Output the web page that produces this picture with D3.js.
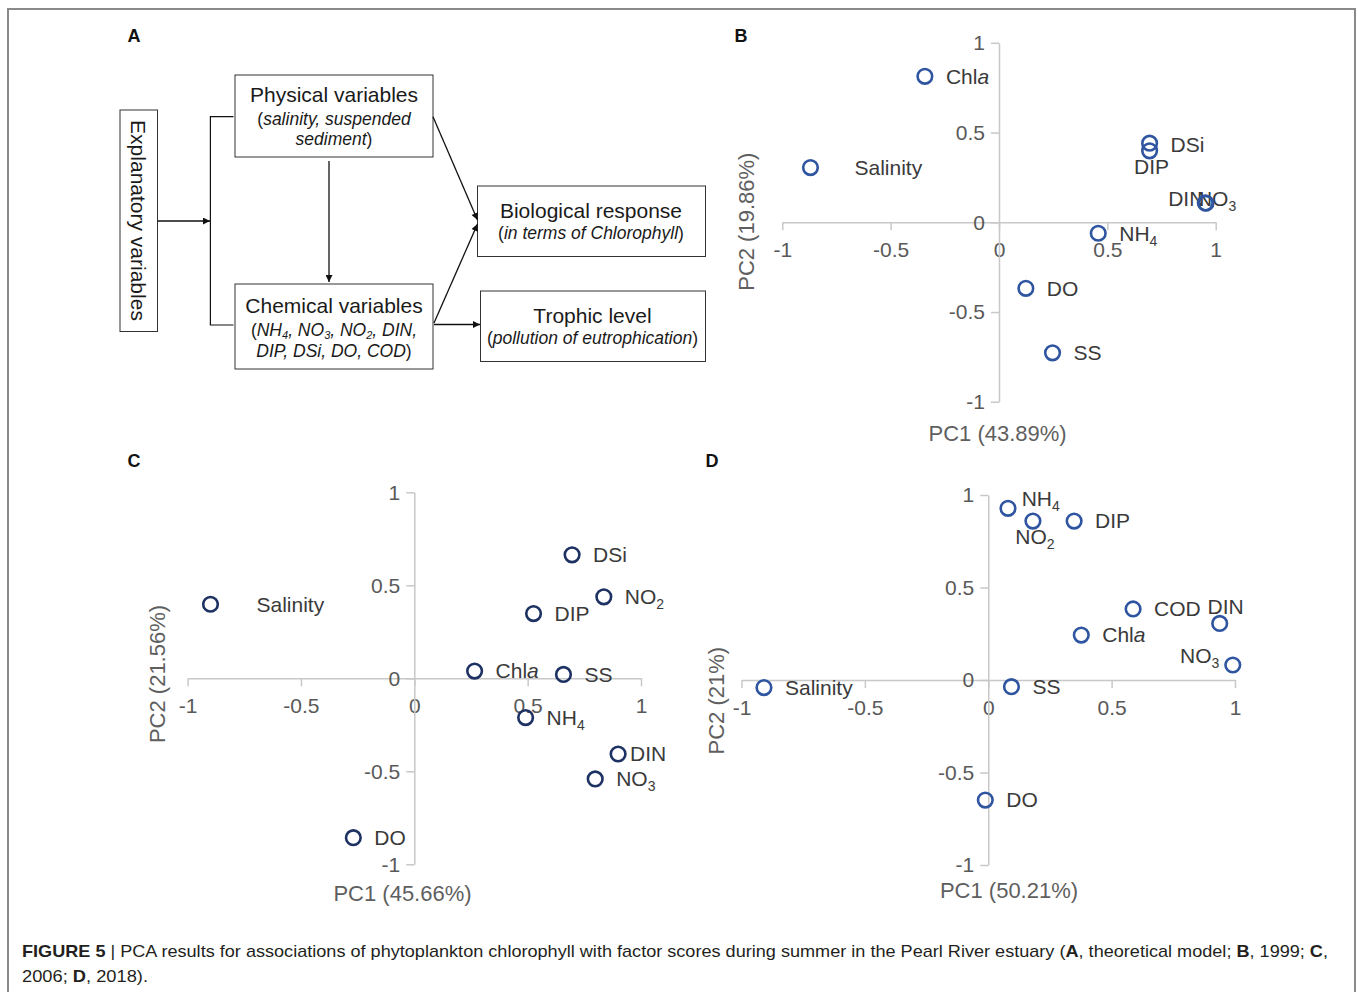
<!DOCTYPE html>
<html>
<head>
<meta charset="utf-8">
<script src="https://cdn.jsdelivr.net/npm/d3@7"></script>
<style>
  body { margin: 0; background: #fff; }
</style>
</head>
<body>
<svg id="fig" width="1358" height="992"></svg>
<script>
const FONT = '"Liberation Sans", Arial, Helvetica, sans-serif';

// PCA loadings (PC1, PC2)
const varsB = ["Chla", "Salinity", "DSi", "DIP", "DIN", "NO3", "NH4", "DO", "SS"];
const pc1B  = [-0.342, -0.870, 0.695, 0.695, 0.952, 0.955, 0.458, 0.124, 0.247];
const pc2B  = [0.813, 0.305, 0.441, 0.398, 0.108, 0.106, -0.061, -0.368, -0.727];

const varsC = ["Salinity", "DSi", "NO2", "DIP", "Chla", "SS", "NH4", "DIN", "NO3", "DO"];
const pc1C  = [-0.899, 0.696, 0.836, 0.526, 0.266, 0.658, 0.491, 0.899, 0.798, -0.269];
const pc2C  = [0.398, 0.664, 0.438, 0.348, 0.039, 0.021, -0.211, -0.407, -0.541, -0.857];

const varsD = ["NH4", "NO2", "DIP", "COD", "DIN", "Chla", "NO3", "Salinity", "SS", "DO"];
const pc1D  = [0.080, 0.181, 0.348, 0.587, 0.938, 0.377, 0.991, -0.909, 0.094, -0.012];
const pc2D  = [0.928, 0.859, 0.859, 0.384, 0.306, 0.243, 0.081, -0.041, -0.036, -0.649];

const axisTicks = [-1, -0.5, 0, 0.5, 1];
const axisTitlesB = ["PC1 (43.89%)", "PC2 (19.86%)"];
const axisTitlesC = ["PC1 (45.66%)", "PC2 (21.56%)"];
const axisTitlesD = ["PC1 (50.21%)", "PC2 (21%)"];

const svg = d3.select("#fig");

// outer frame
svg.append("rect")
  .attr("x", 8).attr("y", 9).attr("width", 1347).attr("height", 1000)
  .attr("fill", "none").attr("stroke", "#8a8a8a").attr("stroke-width", 2);

// panel letters
[["A", 134, 36], ["B", 741, 36], ["C", 134, 461], ["D", 712, 461]].forEach(p => {
  svg.append("text").attr("x", p[1]).attr("y", p[2]).attr("dy", "0.35em")
    .attr("text-anchor", "middle").attr("font-family", FONT)
    .attr("font-weight", "bold").attr("font-size", 18).attr("fill", "#111").text(p[0]);
});

// rich text helper: segments {t, i, b, sub}
function rich(sel, segs, subSize, shift) {
  const sh = shift || 5;
  let shifted = false;
  segs.forEach(s => {
    const ts = sel.append("tspan").text(s.t);
    if (s.i) ts.attr("font-style", "italic");
    if (s.b) ts.attr("font-weight", "bold");
    if (s.sub) { ts.attr("font-size", subSize).attr("dy", sh); shifted = true; }
    else if (shifted) { ts.attr("dy", -sh); shifted = false; }
  });
}

// ---------------- Panel A: theoretical model ----------------
const defs = svg.append("defs");
defs.append("marker").attr("id", "arr")
  .attr("viewBox", "0 0 10 10").attr("refX", 10).attr("refY", 5)
  .attr("markerWidth", 9).attr("markerHeight", 7)
  .attr("markerUnits", "userSpaceOnUse").attr("orient", "auto")
  .append("path").attr("d", "M0,0 L10,5 L0,10 Z").attr("fill", "#111");

const gA = svg.append("g");
const boxes = [
  {x: 120, y: 110, w: 37.5, h: 221.5},
  {x: 235, y: 75, w: 198, h: 82},
  {x: 235, y: 284, w: 198, h: 85},
  {x: 477.5, y: 186, w: 228, h: 70.5},
  {x: 480.5, y: 291, w: 225, h: 70.5}
];
gA.selectAll("rect.box").data(boxes).join("rect").attr("class", "box")
  .attr("x", d => d.x).attr("y", d => d.y).attr("width", d => d.w).attr("height", d => d.h)
  .attr("fill", "#fff").attr("stroke", "#333").attr("stroke-width", 1);

const arrows = [
  [157.5, 221, 210, 221],
  [329, 161, 329, 282],
  [433, 116.7, 477.5, 220],
  [434, 323, 477.5, 224],
  [434, 324.5, 480, 324.5]
];
gA.selectAll("line.arr").data(arrows).join("line").attr("class", "arr")
  .attr("x1", d => d[0]).attr("y1", d => d[1]).attr("x2", d => d[2]).attr("y2", d => d[3])
  .attr("stroke", "#111").attr("stroke-width", 1.3).attr("marker-end", "url(#arr)");

gA.append("path").attr("d", "M233.5,116.7 H210.4 V325 H233.5")
  .attr("fill", "none").attr("stroke", "#111").attr("stroke-width", 1.2);

const txtA = gA.append("g").attr("font-family", FONT).attr("fill", "#1a1a1a").attr("text-anchor", "middle");
txtA.append("text").attr("transform", "translate(138,220.5) rotate(90)").attr("dy", "0.35em")
  .attr("font-size", 21).text("Explanatory variables");

function boxLine(x, y, size, segs) {
  const t = txtA.append("text").attr("x", x).attr("y", y).attr("font-size", size);
  rich(t, segs, 11, 3);
}
boxLine(334, 102, 21, [{t: "Physical variables"}]);
boxLine(334, 125, 17.5, [{t: "("}, {t: "salinity, suspended", i: 1}]);
boxLine(334, 145, 17.5, [{t: "sediment", i: 1}, {t: ")"}]);
boxLine(334, 313, 21, [{t: "Chemical variables"}]);
boxLine(334, 335.5, 17.5, [{t: "("}, {t: "NH", i: 1}, {t: "4", i: 1, sub: 1}, {t: ", NO", i: 1}, {t: "3", i: 1, sub: 1},
  {t: ", NO", i: 1}, {t: "2", i: 1, sub: 1}, {t: ", DIN,", i: 1}]);
boxLine(334, 356.5, 17.5, [{t: "DIP, DSi, DO, COD", i: 1}, {t: ")"}]);
boxLine(591, 218, 21, [{t: "Biological response"}]);
boxLine(591, 239, 17.5, [{t: "("}, {t: "in terms of Chlorophyll", i: 1}, {t: ")"}]);
boxLine(592.5, 323, 21, [{t: "Trophic level"}]);
boxLine(592.5, 344, 17.5, [{t: "("}, {t: "pollution of eutrophication", i: 1}, {t: ")"}]);

// ---------------- PCA panels ----------------
function addLabel(sel, name) {
  const m = name.match(/^(NH|NO)(\d)$/);
  if (m) rich(sel, [{t: m[1]}, {t: m[2], sub: 1}], 14);
  else if (name === "Chla") rich(sel, [{t: "Chl"}, {t: "a", i: 1}], 14);
  else sel.text(name);
}

function drawPanel(cfg) {
  const x = d3.scaleLinear().domain([-1, 1]).range(cfg.xRange);
  const y = d3.scaleLinear().domain([-1, 1]).range(cfg.yRange);
  const g = svg.append("g");
  const fmt = d => String(d);

  g.append("g").attr("class", "ax").attr("transform", `translate(0,${y(0)})`)
    .call(d3.axisBottom(x).tickValues(axisTicks).tickSize(8).tickSizeOuter(0).tickPadding(12).tickFormat(fmt));
  g.append("g").attr("class", "ax").attr("transform", `translate(${x(0)},0)`)
    .call(d3.axisLeft(y).tickValues(axisTicks).tickSize(8).tickSizeOuter(0).tickPadding(6).tickFormat(fmt));
  g.selectAll(".ax").attr("font-family", FONT).attr("font-size", 21);
  g.selectAll(".ax .domain, .ax .tick line").attr("stroke", "#c8c8c8").attr("stroke-width", 1.5);
  g.selectAll(".ax text").attr("fill", "#595959");

  // axis titles
  g.append("text").attr("x", cfg.xTitle[0]).attr("y", cfg.xTitle[1]).attr("dy", "0.35em")
    .attr("text-anchor", "middle").attr("font-family", FONT).attr("font-size", 22)
    .attr("fill", "#5f5f5f").text(cfg.titles[0]);
  g.append("text").attr("transform", `translate(${cfg.yTitle[0]},${cfg.yTitle[1]}) rotate(-90)`)
    .attr("dy", "0.35em").attr("text-anchor", "middle").attr("font-family", FONT).attr("font-size", 22)
    .attr("fill", "#5f5f5f").text(cfg.titles[1]);

  const pts = cfg.names.map((n, i) => ({name: n, pc1: cfg.pc1[i], pc2: cfg.pc2[i]}));

  g.selectAll("text.lab").data(pts).join("text").attr("class", "lab")
    .each(function(d) {
      const p = Object.assign({dx: 21, dy: 0, anchor: "start"}, cfg.place[d.name] || {});
      const t = d3.select(this)
        .attr("x", x(d.pc1) + p.dx).attr("y", y(d.pc2) + p.dy).attr("dy", "0.35em")
        .attr("text-anchor", p.anchor).attr("font-family", FONT).attr("font-size", 21)
        .attr("fill", "#3a3a3a");
      addLabel(t, d.name);
    });

  g.selectAll("circle").data(pts).join("circle")
    .attr("cx", d => x(d.pc1)).attr("cy", d => y(d.pc2)).attr("r", 7.3)
    .attr("fill", "none").attr("stroke", cfg.color).attr("stroke-width", 2.6);
}

drawPanel({
  names: varsB, pc1: pc1B, pc2: pc2B, titles: axisTitlesB, color: "#2f55a0",
  xRange: [782.3, 1215.7], yRange: [401.8, 42.8],
  xTitle: [997.6, 433], yTitle: [746, 221.7],
  place: {
    Salinity: {dx: 44},
    DSi: {dy: 2},
    DIP: {dx: 2, dy: 16, anchor: "middle"},
    DIN: {dx: -1, dy: -4.5, anchor: "end"},
    NO3: {dx: -9, dy: -4.5}
  }
});

drawPanel({
  names: varsC, pc1: pc1C, pc2: pc2C, titles: axisTitlesC, color: "#1d3163",
  xRange: [187.6, 641], yRange: [864.3, 492.3],
  xTitle: [402.5, 893], yTitle: [157.5, 674],
  place: {
    Salinity: {dx: 46},
    DIN: {dx: 12}
  }
});

drawPanel({
  names: varsD, pc1: pc1D, pc2: pc2D, titles: axisTitlesD, color: "#2f55a0",
  xRange: [741.5, 1235], yRange: [865, 495],
  xTitle: [1009, 890], yTitle: [716, 700.7],
  place: {
    NH4: {dx: 13.7, dy: -10},
    NO2: {dx: 2, dy: 16, anchor: "middle"},
    DIN: {dx: 6, dy: -16.7, anchor: "middle"},
    NO3: {dx: -13.5, dy: -9, anchor: "end"}
  }
});

// ---------------- caption ----------------
const cap = svg.append("g").attr("font-family", FONT).attr("font-size", 17).attr("fill", "#231f20");
const c1 = cap.append("text").attr("x", 22).attr("y", 957)
  .attr("textLength", 1306).attr("lengthAdjust", "spacingAndGlyphs");
rich(c1, [
  {t: "FIGURE 5", b: 1},
  {t: " | PCA results for associations of phytoplankton chlorophyll with factor scores during summer in the Pearl River estuary ("},
  {t: "A", b: 1}, {t: ", theoretical model; "}, {t: "B", b: 1}, {t: ", 1999; "}, {t: "C", b: 1}, {t: ","}
], 12);
const c2 = cap.append("text").attr("x", 22).attr("y", 982)
  .attr("textLength", 126).attr("lengthAdjust", "spacingAndGlyphs");
rich(c2, [{t: "2006; "}, {t: "D", b: 1}, {t: ", 2018)."}], 12);
</script>
</body>
</html>
